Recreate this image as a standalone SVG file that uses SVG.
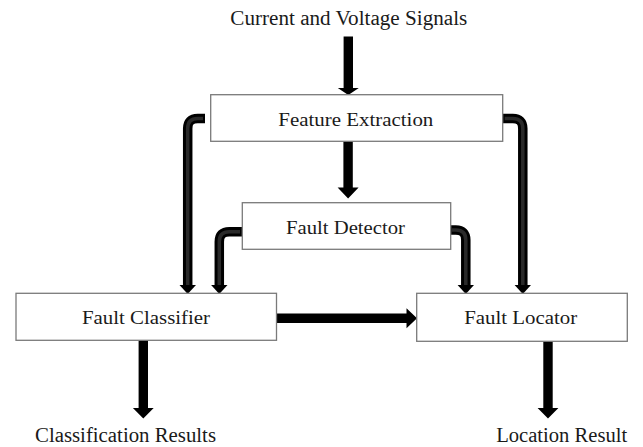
<svg xmlns="http://www.w3.org/2000/svg" width="643" height="447" viewBox="0 0 643 447">
<style>
.box{fill:#fff;stroke:#7a7a7a;stroke-width:1.3}
.lbl{font-family:"Liberation Serif","Times New Roman",serif;font-size:19px;fill:#1a1a1a;text-anchor:middle}
.elb{fill:none;stroke:#000;stroke-width:9.5}
.elbi{fill:none;stroke:#2a2a2a;stroke-width:3.5}
.ah{fill:#000}
</style>
<rect width="643" height="447" fill="#fff"/>
<g id="connectors">
  <polygon class="ah" points="343.6,36.5 353,36.5 353,88 358.8,88 348.3,95 337.8,88 343.6,88"/>
  <polygon class="ah" points="343.4,140 352.8,140 352.8,187.5 358.6,187.5 348.1,198.5 337.6,187.5 343.4,187.5"/>
  <path class="elb" d="M205,118.5 H197.7 Q187.7,118.5 187.7,128.5 V286"/>
  <path class="elbi" d="M203,118.5 H197.7 Q187.7,118.5 187.7,128.5 V285"/>
  <polygon class="ah" points="179.5,285 196,285 187.7,294"/>
  <path class="elb" d="M242,231.7 H229.3 Q219.3,231.7 219.3,241.7 V286"/>
  <path class="elbi" d="M240,231.7 H229.3 Q219.3,231.7 219.3,241.7 V285"/>
  <polygon class="ah" points="211.1,285 227.5,285 219.3,294"/>
  <path class="elb" d="M450,230 H455.8 Q465.8,230 465.8,240 V286"/>
  <path class="elbi" d="M452,230 H455.8 Q465.8,230 465.8,240 V285"/>
  <polygon class="ah" points="457.6,285 474,285 465.8,294"/>
  <path class="elb" d="M502.7,118.5 H512.8 Q522.8,118.5 522.8,128.5 V286"/>
  <path class="elbi" d="M504.7,118.5 H512.8 Q522.8,118.5 522.8,128.5 V285"/>
  <polygon class="ah" points="514.6,285 531,285 522.8,294"/>
  <polygon class="ah" points="274,313.6 406.5,313.6 406.5,308.3 417,318.3 406.5,328.3 406.5,323 274,323"/>
  <polygon class="ah" points="138.6,339 148,339 148,408 153.7,408 143.3,418.5 132.9,408 138.6,408"/>
  <polygon class="ah" points="543.3,340 552.7,340 552.7,408 558.4,408 548,418.5 537.6,408 543.3,408"/>
</g>
<g id="input">
  <text class="lbl" x="348.8" y="25" textLength="237" lengthAdjust="spacingAndGlyphs" style="font-size:20px">Current and Voltage Signals</text>
</g>
<g id="feature-extraction">
  <rect class="box" x="210.7" y="94.7" width="292" height="46.6"/>
  <text class="lbl" x="355.8" y="125.5" textLength="155" lengthAdjust="spacingAndGlyphs">Feature Extraction</text>
</g>
<g id="fault-detector">
  <rect class="box" x="242.3" y="202.7" width="208.4" height="46.6"/>
  <text class="lbl" x="345.5" y="234" textLength="119" lengthAdjust="spacingAndGlyphs">Fault Detector</text>
</g>
<g id="fault-classifier">
  <rect class="box" x="16" y="293.3" width="260.5" height="47"/>
  <text class="lbl" x="146" y="324" textLength="128" lengthAdjust="spacingAndGlyphs">Fault Classifier</text>
</g>
<g id="fault-locator">
  <rect class="box" x="416.7" y="293.3" width="210.6" height="48"/>
  <text class="lbl" x="520.7" y="324" textLength="113" lengthAdjust="spacingAndGlyphs">Fault Locator</text>
</g>
<g id="classification-results">
  <text class="lbl" x="125.5" y="442" textLength="181" lengthAdjust="spacingAndGlyphs" style="font-size:20px">Classification Results</text>
</g>
<g id="location-result">
  <text class="lbl" x="561.7" y="442" textLength="131" lengthAdjust="spacingAndGlyphs" style="font-size:20px">Location Result</text>
</g>
</svg>
